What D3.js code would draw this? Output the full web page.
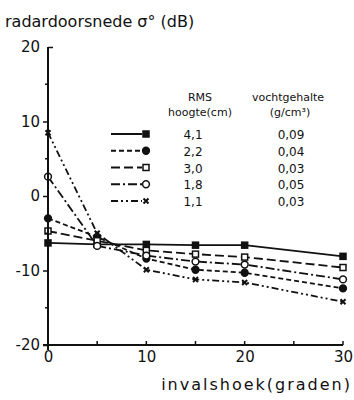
<!DOCTYPE html>
<html>
<head>
<meta charset="utf-8">
<script src="https://cdn.jsdelivr.net/npm/d3@7"></script>
<style>
  body { margin: 0; background: #fff; }
  text { font-family: "DejaVu Sans", sans-serif; fill: #111; }
</style>
</head>
<body>
<div id="chart"></div>
<script>
// data
var hoeken = [0, 5, 10, 15, 20, 30];
var rmsHoogte = ['4,1', '2,2', '3,0', '1,8', '1,1'];
var vochtgehalte = ['0,09', '0,04', '0,03', '0,05', '0,03'];
var serie41 = [-6.3, -6.5, -6.5, -6.6, -6.6, -8.1];
var serie22 = [-3.0, -5.5, -8.4, -9.9, -10.3, -12.4];
var serie30 = [-4.7, -6.0, -7.3, -7.8, -8.2, -9.6];
var serie18 = [2.6, -6.7, -8.0, -8.8, -9.2, -11.2];
var serie11 = [8.5, -5.0, -9.9, -11.2, -11.6, -14.2];
var yTicks = [-20, -10, 0, 10, 20];
var xTicks = [0, 10, 20, 30];

var width = 354, height = 400;

var svg = d3.select('#chart').append('svg')
    .attr('width', width)
    .attr('height', height);

var x = d3.scaleLinear().domain([0, 30]).range([48, 343]);
var y = d3.scaleLinear().domain([-20, 20]).range([345, 47]);

// series styling
var series = [
    { vals: serie41, dash: null, marker: 'sqFill' },
    { vals: serie22, dash: '5,3', marker: 'circFill' },
    { vals: serie30, dash: '9,4', marker: 'sqOpen' },
    { vals: serie18, dash: '9,3,2,3', marker: 'circOpen' },
    { vals: serie11, dash: '7,3,2,3,2,3', marker: 'cross' }
];

function drawMarker(g, type, cx, cy) {
    if (type === 'sqFill' || type === 'sqOpen') {
        g.append('rect')
            .attr('x', cx - 3).attr('y', cy - 3)
            .attr('width', 6).attr('height', 6)
            .attr('fill', type === 'sqFill' ? '#111' : '#fff')
            .attr('stroke', '#111').attr('stroke-width', 1.5);
    } else if (type === 'circFill' || type === 'circOpen') {
        g.append('circle')
            .attr('cx', cx).attr('cy', cy).attr('r', 3.4)
            .attr('fill', type === 'circFill' ? '#111' : '#fff')
            .attr('stroke', '#111').attr('stroke-width', 1.5);
    } else {
        g.append('path')
            .attr('d', `M${cx-2.5},${cy-2.5}L${cx+2.5},${cy+2.5}M${cx-2.5},${cy+2.5}L${cx+2.5},${cy-2.5}`)
            .attr('stroke', '#111').attr('stroke-width', 2);
    }
}

var line = d3.line()
    .x(function(d, i) { return x(hoeken[i]); })
    .y(function(d) { return y(d); });

var plot = svg.append('g');

series.forEach(function(s) {
    plot.append('path')
        .datum(s.vals)
        .attr('d', line)
        .attr('fill', 'none')
        .attr('stroke', '#111')
        .attr('stroke-width', 1.8)
        .attr('stroke-dasharray', s.dash);
});
series.forEach(function(s) {
    s.vals.forEach(function(v, i) {
        drawMarker(plot, s.marker, x(hoeken[i]), y(v));
    });
});

// y axis
var yAxis = svg.append('g').attr('transform', 'translate(48,0)')
    .call(d3.axisLeft(y).tickValues(yTicks).tickSize(5).tickPadding(3)
        .tickFormat(function(d) { return d; }));
yAxis.select('.domain').attr('stroke', '#111').attr('stroke-width', 2)
    .attr('d', `M0,${y(20)}V${y(-20) + 5}`);
yAxis.selectAll('.tick line').attr('stroke', '#111').attr('stroke-width', 1.5);
yAxis.selectAll('.tick text').style('font-size', '15px').attr('fill', '#111');
// top tick points inward
yAxis.selectAll('.tick').filter(function(d) { return d === 20; })
    .select('line').attr('x2', 5);
// minor ticks
[15, 5, -5, -15].forEach(function(v) {
    yAxis.append('line').attr('x1', -3).attr('x2', 0)
        .attr('y1', y(v)).attr('y2', y(v))
        .attr('stroke', '#111').attr('stroke-width', 1.5);
});

// x axis
var xAxis = svg.append('g').attr('transform', 'translate(0,345)')
    .call(d3.axisBottom(x).tickValues(xTicks).tickSize(0).tickPadding(6)
        .tickFormat(function(d) { return d; }));
xAxis.select('.domain').attr('stroke', '#111').attr('stroke-width', 2)
    .attr('d', `M${x(0) - 5},0H${x(30)}`);
xAxis.selectAll('.tick text').style('font-size', '15px').attr('fill', '#111');
[5, 10, 15, 20, 25, 30].forEach(function(v) {
    xAxis.append('line').attr('x1', x(v)).attr('x2', x(v))
        .attr('y1', -4).attr('y2', 0)
        .attr('stroke', '#111').attr('stroke-width', 1.5);
});

// titles
svg.append('text').attr('x', 5).attr('y', 27)
    .style('font-size', '16px')
    .text('radardoorsnede σ° (dB)');
svg.append('text').attr('x', 352).attr('y', 390)
    .attr('text-anchor', 'end')
    .style('font-size', '16px').style('letter-spacing', '2px')
    .text('invalshoek(graden)');

// legend
var leg = svg.append('g');
leg.append('text').attr('x', 200).attr('y', 101).attr('text-anchor', 'middle')
    .style('font-size', '11px').text('RMS');
leg.append('text').attr('x', 200).attr('y', 116).attr('text-anchor', 'middle')
    .style('font-size', '11px').text('hoogte(cm)');
leg.append('text').attr('x', 288).attr('y', 101).attr('text-anchor', 'middle')
    .style('font-size', '11px').text('vochtgehalte');
leg.append('text').attr('x', 290).attr('y', 116).attr('text-anchor', 'middle')
    .style('font-size', '11px').text('(g/cm³)');

var legY = d3.scaleLinear().domain([0, 4]).range([134, 201]);
series.forEach(function(s, i) {
    var ly = legY(i);
    leg.append('line').attr('x1', 111).attr('x2', 142)
        .attr('y1', ly).attr('y2', ly)
        .attr('stroke', '#111').attr('stroke-width', 2)
        .attr('stroke-dasharray', s.dash);
    drawMarker(leg, s.marker, 146, ly);
    leg.append('text').attr('x', 193).attr('y', ly + 5)
        .attr('text-anchor', 'middle').style('font-size', '12px')
        .text(rmsHoogte[i]);
    leg.append('text').attr('x', 291).attr('y', ly + 5)
        .attr('text-anchor', 'middle').style('font-size', '12px')
        .text(vochtgehalte[i]);
});
</script>
</body>
</html>
